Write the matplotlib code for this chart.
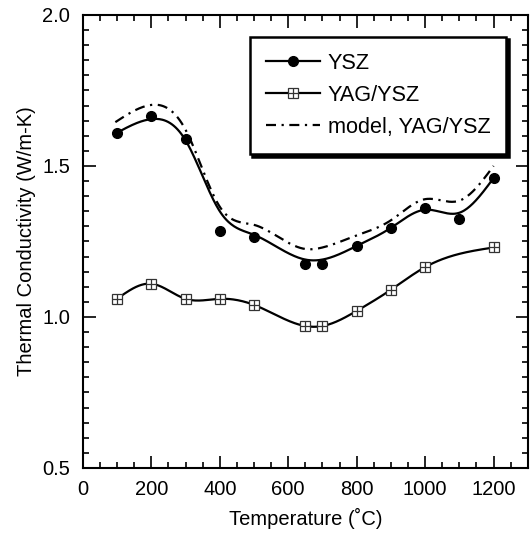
import numpy as np
import matplotlib
matplotlib.use("Agg")
import matplotlib.pyplot as plt
from matplotlib.ticker import MultipleLocator
from matplotlib.legend_handler import HandlerTuple

plt.rcParams['font.family'] = ['Liberation Sans', 'DejaVu Sans']

# measured points
temp = [100, 200, 300, 400, 500, 650, 700, 800, 900, 1000, 1100, 1200]
ysz = [1.61, 1.665, 1.59, 1.285, 1.265, 1.175, 1.175, 1.235, 1.295, 1.36, 1.325, 1.46]
# drawn fit curve through YSZ
ysz_fit = [1.61, 1.655, 1.585, 1.35, 1.272, 1.19, 1.19, 1.235, 1.295, 1.355, 1.345, 1.46]

temp_yag = [100, 200, 300, 400, 500, 650, 700, 800, 900, 1000, 1200]
yag = [1.06, 1.11, 1.06, 1.06, 1.04, 0.97, 0.97, 1.02, 1.09, 1.165, 1.23]

temp_model = [95, 190, 300, 400, 500, 650, 700, 800, 900, 1000, 1100, 1200]
model = [1.645, 1.70, 1.62, 1.365, 1.305, 1.225, 1.23, 1.27, 1.32, 1.39, 1.385, 1.50]


def spline(x, y, n=400):
    x = np.asarray(x, float); y = np.asarray(y, float)
    m = len(x); h = np.diff(x)
    A = np.zeros((m, m)); b = np.zeros(m)
    A[0, 0] = A[-1, -1] = 1
    for i in range(1, m - 1):
        A[i, i - 1] = h[i - 1]; A[i, i] = 2 * (h[i - 1] + h[i]); A[i, i + 1] = h[i]
        b[i] = 3 * ((y[i + 1] - y[i]) / h[i] - (y[i] - y[i - 1]) / h[i - 1])
    c = np.linalg.solve(A, b)
    xs = np.linspace(x[0], x[-1], n)
    idx = np.clip(np.searchsorted(x, xs) - 1, 0, m - 2)
    dx = xs - x[idx]
    bb = (y[1:] - y[:-1]) / h - h * (2 * c[:-1] + c[1:]) / 3
    d = (c[1:] - c[:-1]) / (3 * h)
    ys = y[idx] + bb[idx] * dx + c[idx] * dx ** 2 + d[idx] * dx ** 3
    return xs, ys


fig = plt.figure(figsize=(5.31, 5.33), dpi=100)
ax = fig.add_axes([0.156, 0.122, 0.838, 0.85])

lw = 1.6
dash = (0, (4.5, 2.5, 1.0, 2.5))
xs, ys = spline(temp, ysz_fit)
ax.plot(xs, ys, color='black', lw=lw)
ax.plot(temp, ysz, 'o', color='black', ms=7)

xs, ys = spline(temp_yag, yag)
ax.plot(xs, ys, color='black', lw=lw)
ax.plot(temp_yag, yag, 's', mfc='white', mec='#333333', ms=7, mew=0.9)
ax.plot(temp_yag, yag, '+', color='#333333', ms=7, mew=0.9)

xs, ys = spline(temp_model, model)
ax.plot(xs, ys, color='black', lw=lw, linestyle=dash)

ax.set_xlim(0, 1300)
ax.set_ylim(0.5, 2.0)
ax.xaxis.set_minor_locator(MultipleLocator(50))
ax.yaxis.set_minor_locator(MultipleLocator(0.05))
ax.set_xticks([0, 200, 400, 600, 800, 1000, 1200])
ax.set_yticks([0.5, 1.0, 1.5, 2.0])
ax.set_yticklabels(['0.5', '1.0', '1.5', '2.0'])
ax.tick_params(which='both', direction='in', top=True, right=True, width=1.2, labelsize=14.5)
ax.tick_params(which='major', length=9, pad=9)
ax.tick_params(which='minor', length=4.5)
for s in ax.spines.values():
    s.set_linewidth(1.5)

ax.set_xlabel('Temperature (˚C)', fontsize=14.5, labelpad=6)
ax.set_ylabel('Thermal Conductivity (W/m-K)', fontsize=14.5, labelpad=5)

h1 = plt.Line2D([], [], color='black', lw=lw, marker='o', ms=7)
h2a = plt.Line2D([], [], color='black', lw=lw, marker='s', mfc='white', mec='#333333', ms=7, mew=0.9)
h2b = plt.Line2D([], [], color='none', marker='+', mec='#333333', ms=7, mew=0.9)
h3 = plt.Line2D([], [], color='black', lw=lw, linestyle=dash)
leg = ax.legend([h1, (h2a, h2b), h3], ['YSZ', 'YAG/YSZ', 'model, YAG/YSZ'],
                handler_map={tuple: HandlerTuple(ndivide=1, pad=0)},
                loc='upper right', bbox_to_anchor=(0.952, 0.952), fontsize=15.6,
                frameon=True, fancybox=False, shadow={'color': 'black', 'alpha': 1},
                handlelength=2.5, handletextpad=0.35, labelspacing=0.5,
                borderpad=0.75, borderaxespad=0)
leg.get_frame().set_edgecolor('black')
leg.get_frame().set_linewidth(1.8)

fig.savefig('out.png', dpi=100)
